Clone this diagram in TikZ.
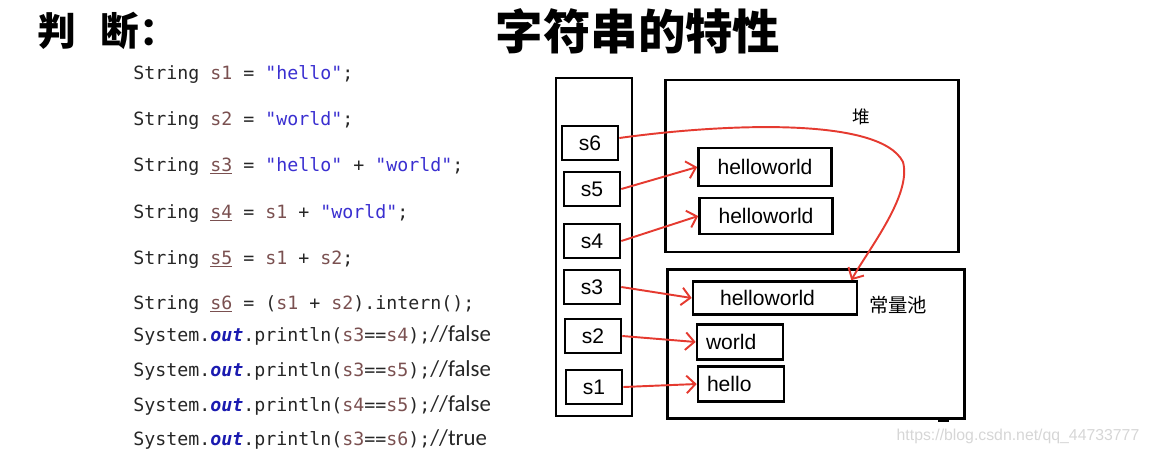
\documentclass[tikz,border=0pt]{standalone}
\usepackage{fontspec}
\setmainfont{Liberation Sans}
\newfontfamily\codefont{DejaVu Sans Mono}
\newfontfamily\notefont{Carlito}
\newfontfamily\cjk{Noto Sans CJK SC}
\usetikzlibrary{positioning,arrows.meta}
\definecolor{jVar}{HTML}{7A5050}
\definecolor{jStr}{HTML}{3A2FD0}
\definecolor{jField}{HTML}{1A1AB0}
\definecolor{codeInk}{HTML}{262626}
\definecolor{arrowRed}{HTML}{E53A30}
\definecolor{markGray}{HTML}{D6D6D6}
\newcommand{\jvar}[1]{\textcolor{jVar}{#1}}
\newcommand{\jdecl}[1]{\textcolor{jVar}{\underline{#1}}}
\newcommand{\jstr}[1]{\textcolor{jStr}{#1}}
\newcommand{\jout}{\textcolor{jField}{\bfseries\itshape out}}
\newcommand{\jnote}[1]{{\notefont\fontsize{13}{15}\selectfont #1}}

\begin{document}
\begin{tikzpicture}[x=0.02cm, y=-0.02cm,
  codeline/.style={anchor=base west, inner sep=0pt, text=codeInk, font=\codefont\fontsize{10.4}{12}\selectfont},
  frame/.style={draw=black, line width=1.5pt, inner sep=0pt},
  cell/.style={draw=black, line width=1.5pt, minimum width=1.12cm, minimum height=0.68cm, inner sep=0pt, font=\fontsize{12}{14}\selectfont},
  strbox/.style={draw=black, line width=1.5pt, minimum height=0.7cm, inner sep=0pt, font=\fontsize{12}{14}\selectfont},
  leftbox/.style={strbox, text width=1.36cm, align=left, inner xsep=0.18cm},
  refarrow/.style={draw=arrowRed, line width=1.1pt, -{Straight Barb[length=5pt,width=10pt]}}]
\useasboundingbox (0,0) rectangle (1149,454);

% titles
\node[anchor=west, font=\cjk\bfseries\fontsize{22}{24}\selectfont] (judge) at (31,31) {判\hspace{0.5cm}断：};
\node[font=\cjk\bfseries\fontsize{27}{30}\selectfont] (title) at (638,31) {字符串的特性};

% code
\node[codeline] (c1) at (133,79) {String \jvar{s1} = \jstr{"hello"};};
\node[codeline] (c2) at (133,125) {String \jvar{s2} = \jstr{"world"};};
\node[codeline] (c3) at (133,171) {String \jdecl{s3} = \jstr{"hello"} + \jstr{"world"};};
\node[codeline] (c4) at (133,218) {String \jdecl{s4} = \jvar{s1} + \jstr{"world"};};
\node[codeline] (c5) at (133,264) {String \jdecl{s5} = \jvar{s1} + \jvar{s2};};
\node[codeline] (c6) at (133,309) {String \jdecl{s6} = (\jvar{s1} + \jvar{s2}).intern();};
\node[codeline] (c7) at (133,341) {System.\jout.println(\jvar{s3}==\jvar{s4});\jnote{//false}};
\node[codeline] (c8) at (133,376) {System.\jout.println(\jvar{s3}==\jvar{s5});\jnote{//false}};
\node[codeline] (c9) at (133,411) {System.\jout.println(\jvar{s4}==\jvar{s5});\jnote{//false}};
\node[codeline] (c10) at (133,445) {System.\jout.println(\jvar{s3}==\jvar{s6});\jnote{//true}};

% stack
\node[frame, minimum width=1.52cm, minimum height=6.76cm] (stack) at (594,247) {};
\node[cell] (s6) at (590,143) {s6};
\node[cell] (s5) at (592,189) {s5};
\node[cell] (s4) at (592,241) {s4};
\node[cell] (s3) at (592,287) {s3};
\node[cell] (s2) at (593,336) {s2};
\node[cell] (s1) at (594,387) {s1};

% heap
\node[frame, minimum width=5.86cm, minimum height=3.44cm] (heap) at (812,166) {};
\node[font=\cjk\fontsize{10}{12}\selectfont] (heaplbl) at (861,117) {堆};
\node[strbox, minimum width=2.66cm, minimum height=0.76cm] (hw1) at (765,167) {helloworld};
\node[strbox, minimum width=2.66cm, minimum height=0.72cm] (hw2) at (766,216) {helloworld};

% constant pool
\node[frame, minimum width=5.94cm, minimum height=2.98cm] (pool) at (816,344) {};
\node[font=\cjk\fontsize{11}{13}\selectfont] (poollbl) at (898,305) {常量池};
\node[strbox, minimum width=3.28cm, minimum height=0.66cm] (phw) at (775,298) {\hspace{-0.3cm}helloworld};
\node[leftbox] (world) at (740,342) {world};
\node[leftbox] (hello) at (741,384) {hello};
\draw[line width=2.6pt] ([xshift=-0.34cm]pool.south east) -- ([xshift=-0.56cm]pool.south east);

% references
\draw[refarrow] (s5.east) -- (hw1.west);
\draw[refarrow] (s4.east) -- (hw2.west);
\draw[refarrow] (s3.east) -- (phw.west);
\draw[refarrow] (s2.east) -- (world.west);
\draw[refarrow] (s1.east) -- (hello.west);
\draw[refarrow] ([yshift=0.1cm]s6.east) .. controls (720,124) and (880,116) .. (903,162)
  .. controls (912,195) and (868,250) .. ([xshift=-0.14cm]phw.north east);

\node[text=markGray, font=\fontsize{9}{11}\selectfont] (mark) at (1018,436) {https://blog.csdn.net/qq\_44733777};
\end{tikzpicture}
\end{document}
